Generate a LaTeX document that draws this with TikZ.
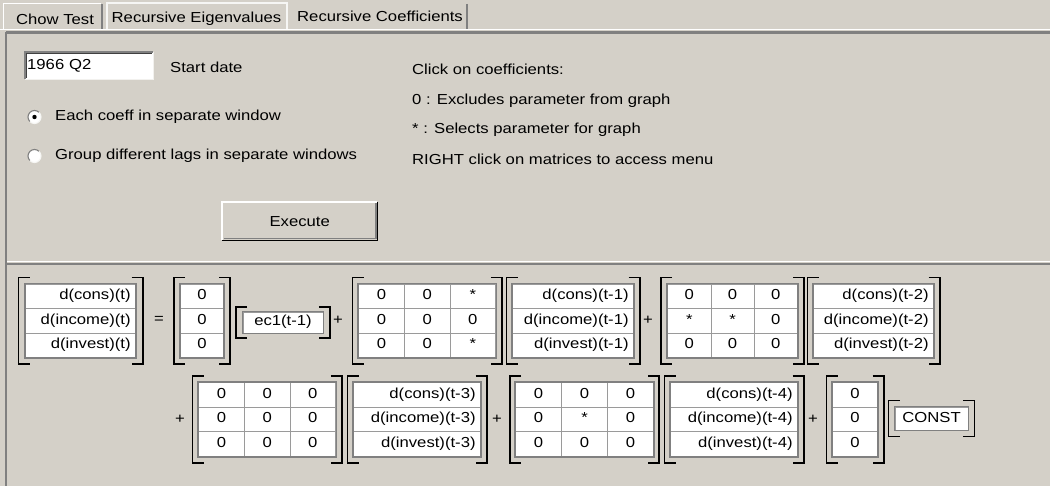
\documentclass[tikz,border=0pt]{standalone}
\usepackage{fontspec}
\usetikzlibrary{matrix}
\newfontfamily\ui[FakeStretch=1.15]{Liberation Sans}
\definecolor{winbg}{HTML}{D4D0C8}
\definecolor{dkgray}{HTML}{808080}
\definecolor{gridgray}{HTML}{9A9A9A}
\definecolor{edgedark}{HTML}{404040}

% left / right square bracket around a named matrix: #2 horizontal gap, #3 vertical gap
\newcommand\matbrackets[3]{%
  \draw[brk] ([shift={(-#2+11,-#3)}]#1.north west) -- ([shift={(-#2,-#3)}]#1.north west)
             -- ([shift={(-#2,#3)}]#1.south west) -- ([shift={(-#2+11,#3)}]#1.south west);
  \draw[brk] ([shift={(#2-11,-#3)}]#1.north east) -- ([shift={(#2,-#3)}]#1.north east)
             -- ([shift={(#2,#3)}]#1.south east) -- ([shift={(#2-11,#3)}]#1.south east);
  \draw[frame] (#1.north west) rectangle (#1.south east);
}

\begin{document}
\begin{tikzpicture}[x=1pt,y=-1pt,
  every node/.style={font=\ui\fontsize{14.5}{17}\selectfont, inner sep=0},
  cell/.style={draw=gridgray, line width=0.8, fill=white, minimum height=24.5,
               text height=10.5, text depth=3.5, anchor=center},
  coef/.style={cell, minimum width=#1},
  vec/.style={cell, text width=#1, align=right, inner xsep=5},
  cmat/.style={matrix of nodes, anchor=north west, inner sep=0,
               column sep=-0.8pt, row sep=-0.8pt},
  frame/.style={draw=dkgray, line width=1.6},
  brk/.style={draw=black, line width=1.6},
  op/.style={anchor=center},
  lbl/.style={anchor=west}]

\useasboundingbox (0,0) rectangle (1050,486);
\fill[winbg] (0,0) rectangle (1050,486);

% ---------- tab strip ----------
\draw[white, line width=1.2] (3.5,30) -- (3.5,3.5) -- (101,3.5);
\draw[dkgray, line width=1.2] (102,4.5) -- (102,30);
\node (tabchow) at (55,19) {Chow Test};
\draw[white!80!winbg, line width=1.2] (107,30) -- (107,3) -- (287,3) -- (287,30);
\node (tabeig) at (196.5,19) {Recursive Eigenvalues};
\node (tabcoef) at (380,16) {Recursive Coefficients};
\draw[dkgray, line width=1.2] (467,4) -- (467,29);

% pane borders
\draw[white, line width=1.2] (0,29.5) -- (1050,29.5);
\draw[dkgray, line width=2.5] (6,32.5) -- (1050,32.5);
\draw[dkgray, line width=2] (6,32) -- (6,486);
\draw[white, line width=1.5] (7,261.5) -- (1050,261.5);
\draw[dkgray, line width=2] (7,263.8) -- (1050,263.8);

% ---------- settings panel ----------
\node[fill=white, anchor=north west, minimum height=27, text width=124,
      inner xsep=2, align=left] (datefield) at (25,52) {1966 Q2};
\draw[dkgray, line width=1.2] (datefield.south west) -- (datefield.north west) -- (datefield.north east);
\draw[edgedark, line width=1] ([shift={(1.2,-1.2)}]datefield.south west) -- ([shift={(1.2,1.2)}]datefield.north west) -- ([shift={(-1.2,1.2)}]datefield.north east);
\draw[white!70!winbg, line width=1.2] (datefield.south west) -- (datefield.south east) -- (datefield.north east);
\node[lbl] (startlbl) at (170,67) {Start date};

% radio buttons
\begin{scope}[shift={(34.5,117)}]
  \fill[white] (0,0) circle (6.5);
  \draw[dkgray, line width=1.1] (-45:6.5) arc (-45:-225:6.5);
  \draw[white!80!winbg, line width=1.1] (-45:6.5) arc (-45:135:6.5);
  \fill[black] (0,0) circle (2.2);
\end{scope}
\node[lbl] (radioeach) at (55,117) {Each coeff in separate window};
\begin{scope}[shift={(34.5,156)}]
  \fill[white] (0,0) circle (6.5);
  \draw[dkgray, line width=1.1] (-45:6.5) arc (-45:-225:6.5);
  \draw[white!80!winbg, line width=1.1] (-45:6.5) arc (-45:135:6.5);
\end{scope}
\node[lbl] (radiogroup) at (55,156) {Group different lags in separate windows};

% execute button
\node[fill=winbg, anchor=north west, minimum width=155, minimum height=38] (exec) at (222,202) {Execute};
\draw[white, line width=1.2] (exec.south west) -- (exec.north west) -- (exec.north east);
\draw[black, line width=1.2] (exec.south west) -- (exec.south east) -- (exec.north east);
\draw[dkgray, line width=1.2] ([shift={(1.5,-1.5)}]exec.south west) -- ([shift={(-1.5,-1.5)}]exec.south east) -- ([shift={(-1.5,1.5)}]exec.north east);

% help texts
\node[lbl] (help1) at (412,69) {Click on coefficients:};
\node[lbl] (help2) at (412,101) {0 : Excludes parameter from graph};
\node[lbl] (help3) at (412,130) {* : Selects parameter for graph};
\node[lbl] (help4) at (412,159) {RIGHT click on matrices to access menu};

% ---------- model equation, first line ----------
\matrix (m1) [cmat, nodes={vec=100}] at (25,283.5) {
  d(cons)(t) \\ d(income)(t) \\ d(invest)(t) \\};
\matbrackets{m1}{6.5}{6}
\node[op] (eq1) at (159,320) {=};
\matrix (m2) [cmat, nodes={coef=43}] at (180,283.5) {0 \\ 0 \\ 0 \\};
\matbrackets{m2}{6}{6}
\node[cell, minimum width=80, minimum height=21] (m3) at (283,322.5) {ec1(t-1)};
\matbrackets{m3}{6.5}{4.5}
\node[op] (plus1) at (338,320) {+};
\matrix (m4) [cmat, nodes={coef=45.7}] at (358,283.5) {
  0 & 0 & * \\ 0 & 0 & 0 \\ 0 & 0 & * \\};
\matbrackets{m4}{5.5}{6}
\matrix (m5) [cmat, nodes={vec=111}] at (512,283.5) {
  d(cons)(t-1) \\ d(income)(t-1) \\ d(invest)(t-1) \\};
\matbrackets{m5}{5.5}{6}
\node[op] (plus2) at (648,320) {+};
\matrix (m6) [cmat, nodes={coef=43.3}] at (667,283.5) {
  0 & 0 & 0 \\ * & * & 0 \\ 0 & 0 & 0 \\};
\matbrackets{m6}{6}{6}
\matrix (m7) [cmat, nodes={vec=110}] at (813,283.5) {
  d(cons)(t-2) \\ d(income)(t-2) \\ d(invest)(t-2) \\};
\matbrackets{m7}{5.5}{6}

% ---------- model equation, second line ----------
\node[op] (plus3) at (180,419) {+};
\matrix (m8) [cmat, nodes={coef=45.7}] at (198,382) {
  0 & 0 & 0 \\ 0 & 0 & 0 \\ 0 & 0 & 0 \\};
\matbrackets{m8}{5.5}{6}
\matrix (m9) [cmat, nodes={vec=117}] at (353,382) {
  d(cons)(t-3) \\ d(income)(t-3) \\ d(invest)(t-3) \\};
\matbrackets{m9}{5.5}{6}
\node[op] (plus4) at (497,419) {+};
\matrix (m10) [cmat, nodes={coef=46}] at (515,382) {
  0 & 0 & 0 \\ 0 & * & 0 \\ 0 & 0 & 0 \\};
\matbrackets{m10}{5}{6}
\matrix (m11) [cmat, nodes={vec=117}] at (670,382) {
  d(cons)(t-4) \\ d(income)(t-4) \\ d(invest)(t-4) \\};
\matbrackets{m11}{5.5}{6}
\node[op] (plus5) at (813,419) {+};
\matrix (m12) [cmat, nodes={coef=45}] at (832,382) {0 \\ 0 \\ 0 \\};
\matbrackets{m12}{5.5}{6}
\node[cell, minimum width=73, minimum height=23] (m13) at (931.5,418.5) {CONST};
\matbrackets{m13}{6}{6}
\end{tikzpicture}
\end{document}
